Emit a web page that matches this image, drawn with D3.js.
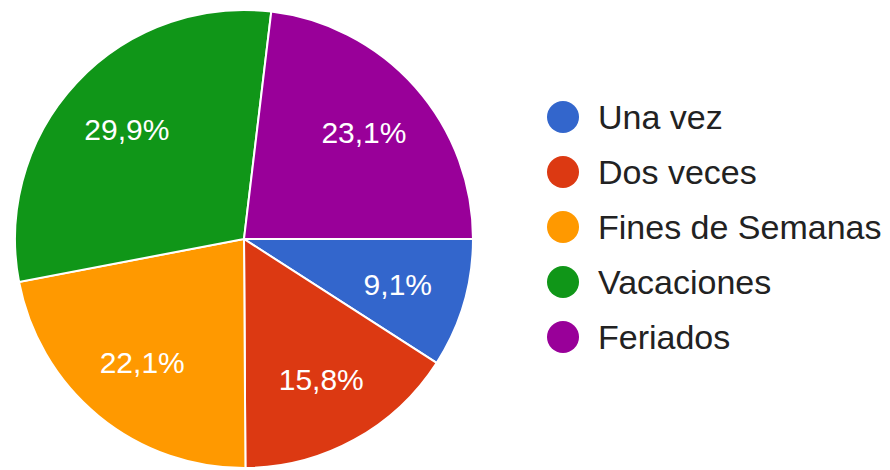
<!DOCTYPE html>
<html>
<head>
<meta charset="utf-8">
<script src="https://cdn.jsdelivr.net/npm/d3@7"></script>
<style>
  body { margin: 0; background: #fff; }
  svg { font-family: "Liberation Sans", Arial, sans-serif; }
</style>
</head>
<body>
<div class="chart"></div>
<script>
// Chart data
var categories = ["Una vez", "Dos veces", "Fines de Semanas", "Vacaciones", "Feriados"];
var values = [9.1, 15.8, 22.1, 29.9, 23.1];
var labels = ["9,1%", "15,8%", "22,1%", "29,9%", "23,1%"];
var colors = ["#3366cc", "#dc3912", "#ff9900", "#109618", "#990099"];

var svgWidth = 890;
var svgHeight = 470;

var cx = 244, cy = 239, radius = 229;

var svg = d3.select(".chart")
  .append("svg")
  .attr("width", svgWidth)
  .attr("height", svgHeight);

var data = categories.map(function(c, i) {
  return {name: c, value: values[i], label: labels[i], color: colors[i]};
});

// Slices start at 3 o'clock and go clockwise
var pie = d3.pie()
  .sort(null)
  .value(function(d) { return d.value; })
  .startAngle(Math.PI / 2)
  .endAngle(Math.PI / 2 + 2 * Math.PI);

var arc = d3.arc().innerRadius(0).outerRadius(radius);
var labelArc = d3.arc().innerRadius(radius * 0.7).outerRadius(radius * 0.7);

var chart = svg.append("g")
  .attr("transform", "translate(" + cx + "," + cy + ")");

var arcs = pie(data);

chart.selectAll("path")
  .data(arcs)
  .enter().append("path")
  .attr("d", arc)
  .attr("fill", function(d) { return d.data.color; })
  .attr("stroke", "#fff")
  .attr("stroke-width", 2);

chart.selectAll("text.slice-label")
  .data(arcs)
  .enter().append("text")
  .attr("class", "slice-label")
  .attr("transform", function(d) { return "translate(" + labelArc.centroid(d) + ")"; })
  .attr("text-anchor", "middle")
  .attr("dy", "0.35em")
  .attr("fill", "#fff")
  .attr("font-size", 30)
  .text(function(d) { return d.data.label; });

// Legend
var legend = svg.append("g")
  .attr("transform", "translate(563,117)");

var items = legend.selectAll("g")
  .data(data)
  .enter().append("g")
  .attr("transform", function(d, i) { return "translate(0," + (i * 55) + ")"; });

items.append("circle")
  .attr("r", 16)
  .attr("fill", function(d) { return d.color; });

items.append("text")
  .attr("x", 35)
  .attr("dy", "0.35em")
  .attr("font-size", 34)
  .attr("fill", "#222")
  .text(function(d) { return d.name; });
</script>
</body>
</html>
